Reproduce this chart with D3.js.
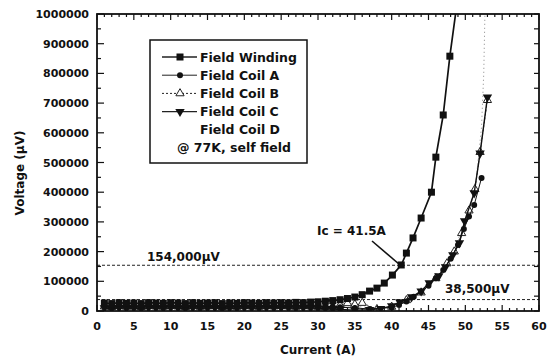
<!DOCTYPE html>
<head>
  <meta charset="utf-8">
  <script src="https://cdn.jsdelivr.net/npm/d3@7"></script>
  <style>
    body { margin: 0; background: #fff; }
    text { font-family: "DejaVu Sans", sans-serif; fill: #111; }
  </style>
</head>
<body>
<svg width="548" height="360"></svg>

<script type="text/javascript">

// currents (A) and voltages (uV)
var windingCurrent = [1,2,3,4,5,6,7,8,9,10,11,12,13,14,15,16,17,18,19,20,21,22,23,24,25,26,27,28,29,30,31,32,33,34,35,36,37,38,39,40.1,41.3,42,42.9,44,45.4,46,47,47.9,49];
var windingVoltage = [27000,25000,28000,26000,27000,25000,28000,27000,26000,28000,27000,25000,28000,26000,27000,28000,25000,27000,26000,28000,27000,26000,28000,27000,28000,27000,29000,28000,30000,31000,33000,35000,38000,42000,47000,55000,67000,77000,94000,121000,155000,195000,246000,313000,400000,518000,660000,858000,1060000];

var coilACurrent = [1,2,3,4,5,6,7,8,9,10,11,12,13,14,15,16,17,18,19,20,21,22,23,24,25,26,27,28,29,30,31,32,33,35,37,40,41,42,43,44,45,46,47,48,49,49.8,50.5,51.2,52.2];
var coilAVoltage = [18000,16000,19000,17000,18000,16000,19000,18000,17000,19000,18000,16000,19000,17000,18000,19000,16000,18000,17000,19000,18000,17000,19000,18000,19000,18000,17000,19000,18000,17000,16000,15000,13000,10000,7000,12000,20000,32000,48000,64000,85000,110000,138000,176000,222000,276000,318000,357000,448000];

var coilBCurrent = [1,2,3,4,5,6,7,8,9,10,11,12,13,14,15,16,17,18,19,20,21,22,23,24,25,26,27,28,29,30,31,32,33,34,35,36,38,40,42,44,46,47.5,48.5,49.5,50.5,51.3,52,53];
var coilBVoltage = [15000,13000,16000,14000,15000,13000,16000,15000,14000,16000,15000,13000,16000,14000,15000,16000,13000,15000,14000,16000,15000,14000,16000,15000,16000,15000,14000,16000,15000,14000,13000,12000,20000,26000,22000,27000,6000,14000,36000,62000,110000,160000,200000,262000,338000,410000,535000,710000];

var coilCCurrent = [1,2,3,4,5,6,7,8,9,10,11,12,13,14,15,16,17,18,19,20,21,22,23,24,25,26,27,28,29,30,31,32,33,35,37,38.5,40,41.1,42.7,44,45.1,46.4,47.3,48.3,49.2,49.9,51.2,52,53];
var coilCVoltage = [10000,8000,11000,9000,10000,8000,11000,10000,9000,11000,10000,8000,11000,9000,10000,11000,8000,10000,9000,11000,10000,9000,11000,10000,11000,10000,9000,11000,10000,9000,8000,7000,5000,3000,4000,8000,17000,30000,47000,67000,94000,118000,148000,189000,229000,303000,397000,531000,720000];

var coilDCurrent = [1,5,10,15,20,25,30,34,38,40,44,47,49,50.5,51.5,52.2,52.5,52.7];
var coilDVoltage = [20000,19000,21000,20000,19000,21000,20000,18000,9000,12000,60000,140000,240000,330000,450000,620000,800000,1050000];

var legendNames = ["Field Winding", "Field Coil A", "Field Coil B", "Field Coil C", "Field Coil D"];
var refLevels = [154000, 38500];
var xTicks = [0,5,10,15,20,25,30,35,40,45,50,55,60];
var yTicks = [0,100000,200000,300000,400000,500000,600000,700000,800000,900000,1000000];

var pLeft = 97, pRight = 539, pTop = 14, pBottom = 311;
var svg = d3.select("svg");

var x = d3.scaleLinear().domain([0, 60]).range([pLeft, pRight]);
var y = d3.scaleLinear().domain([0, 1000000]).range([pBottom, pTop]);

svg.append("clipPath").attr("id", "plotclip")
  .append("rect").attr("x", pLeft).attr("y", pTop).attr("width", pRight - pLeft).attr("height", pBottom - pTop);

// reference dashed lines
svg.selectAll(".ref")
    .data(refLevels)
  .enter().append("line")
    .attr("x1", pLeft).attr("x2", pRight)
    .attr("y1", function(d) { return y(d); })
    .attr("y2", function(d) { return y(d); })
    .style("stroke", "#222").style("stroke-width", 1)
    .style("stroke-dasharray", "3,2");

var series = [
  { name: "Field Coil D", xs: coilDCurrent, ys: coilDVoltage, dash: "1,3", width: 1, color: "#888", marker: null, size: 0 },
  { name: "Field Coil B", xs: coilBCurrent, ys: coilBVoltage, dash: "2,2", width: 1, color: "#444", marker: "tri", size: 7 },
  { name: "Field Coil A", xs: coilACurrent, ys: coilAVoltage, dash: null, width: 1, color: "#111", marker: "circle", size: 6 },
  { name: "Field Coil C", xs: coilCCurrent, ys: coilCVoltage, dash: null, width: 1.4, color: "#111", marker: "down", size: 8 },
  { name: "Field Winding", xs: windingCurrent, ys: windingVoltage, dash: null, width: 1.7, color: "#111", marker: "square", size: 7 }
];

var line = d3.line()
  .x(function(d) { return x(d[0]); })
  .y(function(d) { return y(d[1]); });

var plot = svg.append("g").attr("clip-path", "url(#plotclip)");

function drawMarker(g, type, cx, cy, size) {
  if (type == "square") {
    g.append("rect").attr("x", cx - size/2).attr("y", cy - size/2).attr("width", size).attr("height", size)
      .style("fill", "#111");
  } else if (type == "circle") {
    g.append("circle").attr("cx", cx).attr("cy", cy).attr("r", size/2).style("fill", "#111");
  } else if (type == "tri") {
    g.append("path").attr("d", d3.symbol().type(d3.symbolTriangle).size(size*size*0.6)())
      .attr("transform", "translate(" + cx + "," + cy + ")")
      .style("fill", "#fff").style("stroke", "#222").style("stroke-width", 1);
  } else if (type == "down") {
    g.append("path").attr("d", d3.symbol().type(d3.symbolTriangle).size(size*size*0.6)())
      .attr("transform", "translate(" + cx + "," + cy + ") rotate(180)")
      .style("fill", "#111");
  }
}

series.forEach(function(s) {
  var pts = s.xs.map(function(v, i) { return [v, s.ys[i]]; });
  plot.append("path")
    .datum(pts)
    .attr("d", line)
    .style("fill", "none")
    .style("stroke", s.color)
    .style("stroke-width", s.width)
    .style("stroke-dasharray", s.dash);
  if (s.marker) {
    pts.forEach(function(p) {
      if (p[1] <= 1000000) drawMarker(plot, s.marker, x(p[0]), y(p[1]), s.size);
    });
  }
});

// frame
svg.append("rect")
  .attr("x", pLeft).attr("y", pTop).attr("width", pRight - pLeft).attr("height", pBottom - pTop)
  .style("fill", "none").style("stroke", "#111").style("stroke-width", 1.8);

// inward ticks on all four sides
var xMinor = d3.range(0, 61, 1);
svg.selectAll(".xtb").data(xMinor).enter().append("line")
  .attr("x1", function(d) { return x(d); }).attr("x2", function(d) { return x(d); })
  .attr("y1", pBottom).attr("y2", function(d) { return d % 5 == 0 ? pBottom - 6 : pBottom - 3; })
  .style("stroke", "#111").style("stroke-width", 1.2);
svg.selectAll(".xtt").data(xMinor).enter().append("line")
  .attr("x1", function(d) { return x(d); }).attr("x2", function(d) { return x(d); })
  .attr("y1", pTop).attr("y2", function(d) { return d % 5 == 0 ? pTop + 6 : pTop + 3; })
  .style("stroke", "#111").style("stroke-width", 1.2);

var yMinor = d3.range(0, 1000001, 50000);
svg.selectAll(".ytl").data(yMinor).enter().append("line")
  .attr("y1", function(d) { return y(d); }).attr("y2", function(d) { return y(d); })
  .attr("x1", pLeft).attr("x2", function(d) { return d % 100000 == 0 ? pLeft + 7 : pLeft + 4; })
  .style("stroke", "#111").style("stroke-width", 1.2);
svg.selectAll(".ytr").data(yMinor).enter().append("line")
  .attr("y1", function(d) { return y(d); }).attr("y2", function(d) { return y(d); })
  .attr("x1", pRight).attr("x2", pRight - 5)
  .style("stroke", "#111").style("stroke-width", 1.2);

// tick labels
svg.selectAll(".xl").data(xTicks).enter().append("text")
  .attr("x", function(d) { return x(d); }).attr("y", 330)
  .attr("text-anchor", "middle")
  .style("font-size", "11px").style("font-weight", "bold")
  .text(function(d) { return d; });

svg.selectAll(".yl").data(yTicks).enter().append("text")
  .attr("x", 89).attr("y", function(d) { return y(d) + 4; })
  .attr("text-anchor", "end")
  .style("font-size", "11px").style("font-weight", "bold")
  .text(function(d) { return d; });

// axis titles
svg.append("text").attr("x", 318).attr("y", 354).attr("text-anchor", "middle")
  .style("font-size", "12px").style("font-weight", "bold")
  .text("Current (A)");
svg.append("text").attr("transform", "translate(24,173) rotate(-90)").attr("text-anchor", "middle")
  .style("font-size", "12px").style("font-weight", "bold")
  .text("Voltage (\u03bcV)");

// annotations
svg.append("text").attr("x", 147).attr("y", 261)
  .style("font-size", "12px").style("font-weight", "bold").text("154,000\u03bcV");
svg.append("text").attr("x", 445).attr("y", 293)
  .style("font-size", "12px").style("font-weight", "bold").text("38,500\u03bcV");
svg.append("text").attr("x", 317).attr("y", 235)
  .style("font-size", "12px").style("font-weight", "bold").text("Ic = 41.5A");
svg.append("line").attr("x1", 372).attr("y1", 241).attr("x2", x(41.3) - 2).attr("y2", y(154000) - 1)
  .style("stroke", "#111").style("stroke-width", 1.6);

// legend
var lg = svg.append("g");
lg.append("rect").attr("x", 150).attr("y", 40).attr("width", 157).attr("height", 123)
  .style("fill", "#fff").style("stroke", "#111").style("stroke-width", 1.5);
var legendMarks = ["square", "circle", "tri", "down", null];
var legendDash = [null, null, "2,2", null, null];
var legendWidth = [1.7, 1, 1, 1.4, 0];
var legendSize = [7, 6, 7, 8, 0];
legendNames.forEach(function(name, i) {
  var ry = 57 + i * 18.2;
  if (legendMarks[i]) {
    lg.append("line").attr("x1", 162).attr("x2", 197).attr("y1", ry).attr("y2", ry)
      .style("stroke", "#222").style("stroke-width", legendWidth[i]).style("stroke-dasharray", legendDash[i]);
    drawMarker(lg, legendMarks[i], 180, ry, legendSize[i]);
  }
  lg.append("text").attr("x", 200).attr("y", ry + 4.5)
    .style("font-size", "12.5px").style("font-weight", "bold").text(name);
});
lg.append("text").attr("x", 234).attr("y", 152).attr("text-anchor", "middle")
  .style("font-size", "12.5px").style("font-weight", "bold").text("@ 77K, self field");
</script>

</body>
</html>
